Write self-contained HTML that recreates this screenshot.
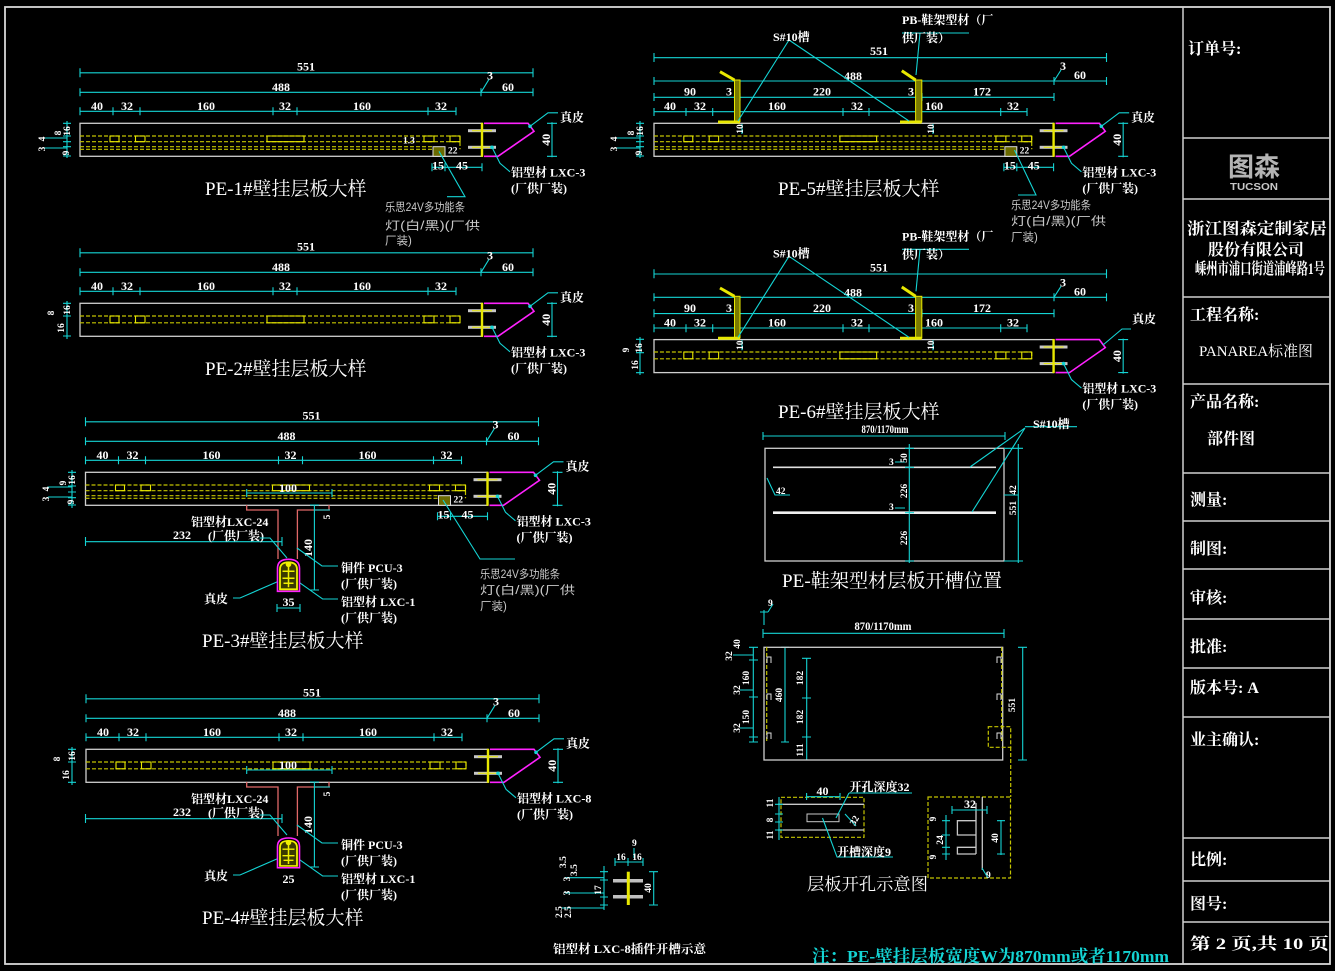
<!DOCTYPE html>
<html><head><meta charset="utf-8"><style>
html,body{margin:0;padding:0;background:#000;}
svg{display:block}
.c{stroke:#14d4d4;fill:none;stroke-width:1.1}
.w{stroke:#cfcfcf;fill:none;stroke-width:1.3}
.y{stroke:#e8e800;fill:none;stroke-width:1.1}
.yd{stroke:#c4c400;fill:none;stroke-dasharray:4 2;stroke-width:1.2}
.m{stroke:#ff22ff;fill:none;stroke-width:1.6}
.r{stroke:#e06868;fill:none;stroke-width:1.3}
.t{fill:#fff;font-family:"Liberation Serif","Noto Serif CJK SC",serif;font-weight:bold;font-size:12px}
.s{fill:#fff;font-family:"Liberation Serif","Noto Serif CJK SC",serif;font-weight:bold;font-size:9.5px}
.l{fill:#fff;font-family:"Liberation Serif","Noto Serif CJK SC",serif;font-weight:bold;font-size:12px}
.h{fill:#fff;font-family:"Liberation Serif","Noto Serif CJK SC",serif;font-size:19px}
.g{fill:#c8c8c8;font-family:"Liberation Sans","Noto Sans CJK SC",sans-serif;font-size:11.5px}
.tb{fill:#fff;font-family:"Liberation Serif","Noto Serif CJK SC",serif;font-weight:bold;font-size:16px}
</style></head><body>
<svg width="1335" height="971" viewBox="0 0 1335 971" xmlns="http://www.w3.org/2000/svg">
<rect width="1335" height="971" fill="#000"/>
<defs>
<g id="dimA">
 <path class="c" d="M0 -50.5H453M0 -55V-46M453 -55V-46M0 -31H453M0 -35V-27M401 -35V-27M453 -35V-27M401 -31L409 -44M0 -12H376M0 -16V-8M33 -16V-8M60 -16V-8M193 -16V-8M217 -16V-8M348 -16V-8M376 -16V-8"/>
 <text class="t" x="226" y="-53" text-anchor="middle">551</text>
 <text class="t" x="201" y="-32.5" text-anchor="middle">488</text>
 <text class="t" x="407" y="-44">3</text>
 <text class="t" x="428" y="-32.5" text-anchor="middle">60</text>
 <text class="t" x="17" y="-13.5" text-anchor="middle">40</text>
 <text class="t" x="47" y="-13.5" text-anchor="middle">32</text>
 <text class="t" x="126" y="-13.5" text-anchor="middle">160</text>
 <text class="t" x="205" y="-13.5" text-anchor="middle">32</text>
 <text class="t" x="282" y="-13.5" text-anchor="middle">160</text>
 <text class="t" x="361" y="-13.5" text-anchor="middle">32</text>
</g>
<g id="body">
 <rect class="w" x="0" y="0" width="402" height="33"/>
 <rect x="388" y="5.9" width="28" height="3" fill="#c8c8c8"/>
 <rect x="388" y="22.5" width="28" height="3" fill="#c8c8c8"/>
 <path d="M392 7.4H412M392 24H412" stroke="#e8e800" stroke-width="1"/>
 <path d="M402 -0.5V33.5" stroke="#e8e800" stroke-width="2.4"/>
 <path class="m" d="M404 0H448L454 8L418 33H404"/>
 <path class="c" d="M472 -1V34M467 0H477M467 33H477"/>
 <text class="t" transform="translate(470,16.5) rotate(-90)" text-anchor="middle">40</text>
 <path class="c" d="M412 24L420 40L430 48.5"/>
 <circle cx="412" cy="24" r="1.8" fill="#14d4d4"/>
 <text class="l" x="431" y="69">(厂供厂装)</text>
</g>
<g id="lx3"><text class="l" x="431" y="53">铝型材 LXC-3</text></g>
<g id="zp">
 <path class="c" d="M450 3L468 -10.5H478"/>
 <circle cx="450" cy="3" r="1.8" fill="#14d4d4"/>
 <text class="l" x="480" y="-2" font-size="13">真皮</text>
</g>
<g id="dash4">
 <path class="yd" d="M0 12.7H380M0 18.4H380M0 23.4H352M0 26H352M380 12.7V26"/>
 <path class="y" d="M30 12.7h9v5.7h-9zM55.5 12.7h9.5v5.7h-9.5zM187 12.7h37v5.7h-37zM344 12.7h10v5.7h-10zM370 12.7h10v5.7h-10z"/>
</g>
<g id="dash2">
 <path class="yd" d="M0 12.7H380M0 19.5H380M380 12.7V19.5"/>
 <path class="y" d="M30 12.7h9v6.8h-9zM55.5 12.7h9.5v6.8h-9.5zM187 12.7h37v6.8h-37zM344 12.7h10v6.8h-10zM370 12.7h10v6.8h-10z"/>
</g>
<g id="led">
 <rect x="353" y="23.4" width="12" height="9.6" fill="#6a6a00" stroke="#ddd"/>
 <path class="c" d="M352 44H402M352 40V48M365 40V48M402 40V48"/>
 <text class="t" x="358" y="46" text-anchor="middle">15</text>
 <text class="t" x="382" y="46" text-anchor="middle">45</text>
 <text class="s" x="368" y="30">22</text>
</g>
<g id="handle">
 <path class="m" d="M-11 32V9Q-11 0 0 0Q11 0 11 9V32Z"/>
 <path d="M-8.5 30V10Q-8.5 3 0 3Q8.5 3 8.5 10V30Z" fill="#3a3a00" stroke="#f0f000" stroke-width="1.8"/>
 <path d="M-6 12H6M-6 19H6M0 7V28M-5 24H5" stroke="#f0f000" stroke-width="1.5"/>
 <circle cx="0" cy="5" r="2.8" fill="#f0f000"/>
</g>
<g id="tee">
 <path class="c" d="M246.7 493H332M246.7 489V497M332 489V497"/>
 <text class="t" x="288" y="492" text-anchor="middle">100</text>
 <path class="r" d="M246.7 505V510H278V559M297.4 559V510H329V505"/>
 <path class="c" d="M314.4 505V590M310 505H319M310 590H319M314 510H330"/>
 <text class="t" transform="translate(312,548) rotate(-90)" text-anchor="middle">140</text>
 <text class="s" transform="translate(330,517) rotate(-90)" text-anchor="middle">5</text>
 <path class="c" d="M85.5 541.7H282M85.5 537V546M282 537V546"/>
 <text class="t" x="182" y="539" text-anchor="middle">232</text>
 <text class="l" x="191" y="526">铝型材LXC-24</text>
 <text class="l" x="208" y="540">(厂供厂装)</text>
 <path class="c" d="M259.6 538H270L287 558"/>
 <text class="l" x="341" y="572">铜件 PCU-3</text>
 <text class="l" x="341" y="588">(厂供厂装)</text>
 <path class="c" d="M297 548L322 566H338"/>
 <text class="l" x="341" y="606">铝型材 LXC-1</text>
 <text class="l" x="341" y="622">(厂供厂装)</text>
 <path class="c" d="M299.6 582.7L322.6 599H338"/>
 <text class="l" x="204" y="603">真皮</text>
 <path class="c" d="M233 598H240L277.4 581.7"/>
 <path class="c" d="M277 608H300M277 604V612M300 604V612"/>
</g>
<g id="pe56">
 <use href="#body" transform="translate(654,123.3) scale(0.994,1)"/>
 <use href="#lx3" transform="translate(654,123.3) scale(0.994,1)"/>
 <path class="c" d="M654 57.7H1106.5M654 53V62M1106.5 53V62M654 81H1106.5M654 77V85M1054 77V85M1106.5 77V85M1054 81L1061 70M654 97.3H1054M654 93V101M734.5 93V101M740 93V101M916 93V101M922 93V101M1054 93V101M654 111.7H1027M654 108V116M686 108V116M712.7 108V116M843 108V116M869 108V116M1000.7 108V116M1027 108V116"/>
 <text class="t" x="879" y="55" text-anchor="middle">551</text>
 <text class="t" x="853" y="80" text-anchor="middle">488</text>
 <text class="t" x="1060" y="70">3</text>
 <text class="t" x="1080" y="79" text-anchor="middle">60</text>
 <text class="t" x="690" y="95.5" text-anchor="middle">90</text>
 <text class="t" x="729" y="95.5" text-anchor="middle">3</text>
 <text class="t" x="822" y="95.5" text-anchor="middle">220</text>
 <text class="t" x="911" y="95.5" text-anchor="middle">3</text>
 <text class="t" x="982" y="95.5" text-anchor="middle">172</text>
 <text class="t" x="670" y="110" text-anchor="middle">40</text>
 <text class="t" x="700" y="110" text-anchor="middle">32</text>
 <text class="t" x="777" y="110" text-anchor="middle">160</text>
 <text class="t" x="857" y="110" text-anchor="middle">32</text>
 <text class="t" x="934" y="110" text-anchor="middle">160</text>
 <text class="t" x="1013" y="110" text-anchor="middle">32</text>
 <path d="M720 71.7L734.5 80M901.8 70.7L915.6 80" stroke="#e8e800" stroke-width="3"/>
 <rect x="734.5" y="80" width="5.5" height="41.7" fill="#7a7a00" stroke="#e8e800"/>
 <rect x="915.6" y="80" width="6.2" height="41.7" fill="#7a7a00" stroke="#e8e800"/>
 <path d="M718 122H740M900 122H921.8" stroke="#e8e800" stroke-width="3"/>
 <path class="c" d="M789 40L738 121M789 40L909 121M902 33H969M920 33L916 75M742 124V134M933 124V134"/>
 <text class="l" x="773" y="41">S#10槽</text>
 <text class="l" x="902" y="24">PB-鞋架型材（厂</text>
 <text class="l" x="902" y="42">供厂装）</text>
 <text class="s" transform="translate(743,129) rotate(-90)" text-anchor="middle">10</text>
 <text class="s" transform="translate(934,129) rotate(-90)" text-anchor="middle">10</text>
</g>
</defs>

<!-- frame -->
<rect x="5" y="7" width="1325" height="957" fill="none" stroke="#d8d8d8" stroke-width="1.8"/>
<path d="M1183 7V964M1183 138H1330M1183 199H1330M1183 297H1330M1183 384H1330M1183 473H1330M1183 521H1330M1183 569H1330M1183 619H1330M1183 668H1330M1183 717H1330M1183 838H1330M1183 881H1330M1183 922H1330" stroke="#d0d0d0" stroke-width="1.5" fill="none"/>
<text class="tb" x="1188" y="54">订单号:</text>
<text x="1254" y="176" text-anchor="middle" fill="#b4b4b4" font-family="'Liberation Sans','Noto Sans CJK SC',sans-serif" font-weight="bold" font-size="26">图森</text>
<text x="1254" y="190" text-anchor="middle" fill="#c8c8c8" font-family="'Liberation Sans',sans-serif" font-weight="bold" font-size="10.5" textLength="48" lengthAdjust="spacingAndGlyphs">TUCSON</text>
<text class="tb" x="1257" y="234" text-anchor="middle" font-size="17" textLength="140" lengthAdjust="spacingAndGlyphs">浙江图森定制家居</text>
<text class="tb" x="1256" y="255" text-anchor="middle" font-size="17">股份有限公司</text>
<text class="tb" x="1260" y="274" text-anchor="middle" font-size="10.5" textLength="130" lengthAdjust="spacingAndGlyphs">嵊州市浦口街道浦峰路1号</text>
<text class="tb" x="1190" y="320">工程名称:</text>
<text x="1199" y="356" fill="#fff" font-family="'Liberation Serif','Noto Serif CJK SC',serif" font-size="15" textLength="114" lengthAdjust="spacingAndGlyphs">PANAREA标准图</text>
<text class="tb" x="1190" y="407">产品名称:</text>
<text class="tb" x="1207" y="444">部件图</text>
<text class="tb" x="1190" y="505">测量:</text>
<text class="tb" x="1190" y="554">制图:</text>
<text class="tb" x="1190" y="603">审核:</text>
<text class="tb" x="1190" y="652">批准:</text>
<text class="tb" x="1190" y="693">版本号:  A</text>
<text class="tb" x="1190" y="745">业主确认:</text>
<text class="tb" x="1190" y="865">比例:</text>
<text class="tb" x="1190" y="909">图号:</text>
<text class="tb" x="1190" y="949" textLength="139" lengthAdjust="spacingAndGlyphs">第 2 页,共 10 页</text>

<!-- PE-1 -->
<g transform="translate(80,123.3)">
 <use href="#dimA"/><use href="#body"/><use href="#lx3"/><use href="#zp"/><use href="#dash4"/><use href="#led"/>
 <path class="c" d="M359 28L385 73.4H367"/>
 <text class="s" x="323" y="20">1.3</text>
 <text class="g" x="305" y="87.5" textLength="80" lengthAdjust="spacingAndGlyphs">乐思24V多功能条</text>
 <text class="g" x="305" y="106" textLength="95" lengthAdjust="spacingAndGlyphs">灯(白/黑)(厂供</text>
 <text class="g" x="305" y="121">厂装)</text>
</g>
<path class="c" d="M67 121V158M63 123.3H71M63 136H71M63 141.7H71M63 146.7H71M63 156H71M44 138H67M44 148H67"/>
<text class="s" transform="translate(70,131) rotate(-90)" text-anchor="middle">16</text>
<text class="s" transform="translate(61,133) rotate(-90)" text-anchor="middle">8</text>
<text class="s" transform="translate(45,139) rotate(-90)" text-anchor="middle">4</text>
<text class="s" transform="translate(45,149) rotate(-90)" text-anchor="middle">3</text>
<text class="s" transform="translate(69,153) rotate(-90)" text-anchor="middle">9</text>
<text class="h" x="205" y="195">PE-1#壁挂层板大样</text>

<!-- PE-2 -->
<g transform="translate(80,303.3)">
 <use href="#dimA"/><use href="#body"/><use href="#lx3"/><use href="#zp"/><use href="#dash2"/>
</g>
<path class="c" d="M67 301V339M63 303.3H71M63 316H71M63 336H71"/>
<text class="s" transform="translate(54,313) rotate(-90)" text-anchor="middle">8</text>
<text class="s" transform="translate(70,310) rotate(-90)" text-anchor="middle">16</text>
<text class="s" transform="translate(64,328) rotate(-90)" text-anchor="middle">16</text>
<text class="h" x="205" y="375">PE-2#壁挂层板大样</text>

<!-- PE-3 -->
<g transform="translate(85.5,472.3)">
 <use href="#dimA"/><use href="#body"/><use href="#lx3"/><use href="#zp"/><use href="#dash4"/><use href="#led"/>
</g>
<use href="#tee"/>
<use href="#handle" transform="translate(288.5,559.3)"/>
<text class="t" x="288.5" y="606" text-anchor="middle">35</text>
<path class="c" d="M443 500L480 559H515"/>
<text class="g" x="480" y="578" textLength="80" lengthAdjust="spacingAndGlyphs">乐思24V多功能条</text>
<text class="g" x="480" y="594" textLength="95" lengthAdjust="spacingAndGlyphs">灯(白/黑)(厂供</text>
<text class="g" x="480" y="610">厂装)</text>
<path class="c" d="M72 470V508M68 472.3H76M68 486H76M68 492H76M68 497.7H76M68 505H76M48 487H72M48 497H72"/>
<text class="s" transform="translate(75,480) rotate(-90)" text-anchor="middle">16</text>
<text class="s" transform="translate(66,483) rotate(-90)" text-anchor="middle">9</text>
<text class="s" transform="translate(49,489) rotate(-90)" text-anchor="middle">4</text>
<text class="s" transform="translate(49,499) rotate(-90)" text-anchor="middle">3</text>
<text class="s" transform="translate(74,502) rotate(-90)" text-anchor="middle">9</text>
<text class="h" x="202" y="647">PE-3#壁挂层板大样</text>

<!-- PE-4 -->
<g transform="translate(86,749.3)">
 <use href="#dimA"/><use href="#body"/><use href="#zp"/><use href="#dash2"/>
 <text class="l" x="431" y="53">铝型材 LXC-8</text>
</g>
<g transform="translate(0,277)"><use href="#tee"/></g>
<rect x="275" y="880" width="27" height="9" fill="#000"/>
<use href="#handle" transform="translate(288.5,838) scale(1,0.93)"/>
<text class="t" x="288.5" y="883" text-anchor="middle">25</text>
<path class="c" d="M72 747V785M68 749.3H76M68 762H76M68 782.3H76"/>
<text class="s" transform="translate(60,759) rotate(-90)" text-anchor="middle">8</text>
<text class="s" transform="translate(75,756) rotate(-90)" text-anchor="middle">16</text>
<text class="s" transform="translate(69,775) rotate(-90)" text-anchor="middle">16</text>
<text class="h" x="202" y="924">PE-4#壁挂层板大样</text>

<!-- PE-5 -->
<use href="#pe56"/>
<g transform="translate(654,123.3) scale(0.994,1)"><use href="#zp"/><use href="#dash4"/><use href="#led"/></g>
<path class="c" d="M1014.5 150L1036 195H1018"/>
<text class="g" x="1011" y="209" textLength="80" lengthAdjust="spacingAndGlyphs">乐思24V多功能条</text>
<text class="g" x="1011" y="225" textLength="95" lengthAdjust="spacingAndGlyphs">灯(白/黑)(厂供</text>
<text class="g" x="1011" y="241">厂装)</text>
<path class="c" d="M640 121V158M636 123.3H644M636 136H644M636 141.7H644M636 146.7H644M636 156H644M616 138H640M616 148H640"/>
<text class="s" transform="translate(643,131) rotate(-90)" text-anchor="middle">16</text>
<text class="s" transform="translate(634,133) rotate(-90)" text-anchor="middle">8</text>
<text class="s" transform="translate(617,139) rotate(-90)" text-anchor="middle">4</text>
<text class="s" transform="translate(617,149) rotate(-90)" text-anchor="middle">3</text>
<text class="s" transform="translate(642,153) rotate(-90)" text-anchor="middle">9</text>
<text class="h" x="778" y="195">PE-5#壁挂层板大样</text>

<!-- PE-6 -->
<g transform="translate(0,216.3)"><use href="#pe56"/></g>
<g transform="translate(654,339.3) scale(0.994,1)"><use href="#dash2"/></g>
<path class="c" d="M1103 345L1122 329H1131"/>
<text class="l" x="1132" y="323" font-size="13">真皮</text>
<path class="c" d="M640 337V375M636 339.3H644M636 352.7H644M636 372.7H644"/>
<text class="s" transform="translate(629,350) rotate(-90)" text-anchor="middle">9</text>
<text class="s" transform="translate(642,348) rotate(-90)" text-anchor="middle">16</text>
<text class="s" transform="translate(638,365) rotate(-90)" text-anchor="middle">16</text>
<text class="h" x="778" y="418">PE-6#壁挂层板大样</text>

<!-- 开槽位置 -->
<path class="c" d="M763 436H1005M763 432V440M1005 432V440"/>
<text class="t" x="885" y="433" text-anchor="middle" font-size="9.5" textLength="47" lengthAdjust="spacingAndGlyphs">870/1170mm</text>
<rect class="w" x="765" y="448.3" width="239" height="112.7"/>
<path d="M773 467.3H996" stroke="#e0e0e0" stroke-width="1.6"/>
<path d="M773 512.7H996" stroke="#f0f0f0" stroke-width="2.6"/>
<path class="c" d="M909.3 444V563M905 448.3H914M905 467.3H914M905 512.7H914M905 561H914M1018.3 444V563M1004 448.3H1023M1004 561H1023M1004 495H1018M767 478L775 495H790M1025 428L970 467M1025 428L972 512M1025 426.7H1077M895 462H905M895 508H905"/>
<text class="s" transform="translate(907,458) rotate(-90)" text-anchor="middle">50</text>
<text class="s" transform="translate(907,491) rotate(-90)" text-anchor="middle">226</text>
<text class="s" transform="translate(907,538) rotate(-90)" text-anchor="middle">226</text>
<text class="s" x="889" y="465">3</text>
<text class="s" x="889" y="510">3</text>
<text class="s" transform="translate(1016,490) rotate(-90)" text-anchor="middle">42</text>
<text class="s" transform="translate(1016,508) rotate(-90)" text-anchor="middle">551</text>
<text class="s" x="776" y="494">42</text>
<text class="l" x="1033" y="428" font-size="11">S#10槽</text>
<text class="h" x="782" y="587" textLength="220" lengthAdjust="spacingAndGlyphs">PE-鞋架型材层板开槽位置</text>

<!-- 开孔 panel -->
<path class="c" d="M764 610V625M760 612H768M768 612L773 604M763 633.3H1004M763 629V638M1004 629V638M753.3 647V742M749 647.3H758M749 660H758M749 697H758M749 737H758M749 742H758M785 647V742M781 647.3H789M781 742H789M806.7 658V760M802 658.3H811M802 698H811M802 737H811M802 760H811M1022.7 647V760M1018 647.3H1027M1018 760H1027M733 655H753M740 690H753M740 728H753"/>
<text class="s" x="768" y="606">9</text>
<text class="t" x="883" y="630" text-anchor="middle" font-size="10.5" textLength="57" lengthAdjust="spacingAndGlyphs">870/1170mm</text>
<rect class="w" x="764" y="647.3" width="238.7" height="112.7"/>
<path class="yd" d="M766.7 647V742M1001.7 647V742M1010.7 747V797"/>
<rect class="yd" x="988.3" y="726.7" width="22.4" height="20.6"/>
<path d="M767 663V657H771V663M767 700V694H771V700M767 739V733H771V739M997 663V657H1001V663M997 700V694H1001V700M997 739V733H1001V739" stroke="#ddd" fill="none"/>
<text class="s" transform="translate(782,695) rotate(-90)" text-anchor="middle">460</text>
<text class="s" transform="translate(803,678) rotate(-90)" text-anchor="middle">182</text>
<text class="s" transform="translate(803,717) rotate(-90)" text-anchor="middle">182</text>
<text class="s" transform="translate(803,750) rotate(-90)" text-anchor="middle">111</text>
<text class="s" transform="translate(1015,705) rotate(-90)" text-anchor="middle">551</text>
<text class="s" transform="translate(740,644) rotate(-90)" text-anchor="middle">40</text>
<text class="s" transform="translate(732,656) rotate(-90)" text-anchor="middle">32</text>
<text class="s" transform="translate(749,678) rotate(-90)" text-anchor="middle">160</text>
<text class="s" transform="translate(740,690) rotate(-90)" text-anchor="middle">32</text>
<text class="s" transform="translate(749,717) rotate(-90)" text-anchor="middle">150</text>
<text class="s" transform="translate(740,728) rotate(-90)" text-anchor="middle">32</text>

<!-- 层板开孔示意 -->
<rect class="yd" x="781" y="797.3" width="83" height="40"/>
<path d="M778 804.3H864M778 830H864" stroke="#c8c8c8" stroke-width="1.3"/>
<rect x="807" y="814" width="32" height="7.7" fill="none" stroke="#c8c8c8"/>
<path class="c" d="M806.6 796.7H840M806.6 793V800M840 793V800M849 793H912M849 793L836 818M822.5 818L837 857H893M779 797V840M775 804.3H783M775 814H783M775 822H783M775 830H783M845 814L856 826"/>
<text class="t" x="822.5" y="795" text-anchor="middle">40</text>
<text class="l" x="849.5" y="791">开孔深度32</text>
<text class="s" transform="translate(857,822) rotate(-60)" text-anchor="middle">32</text>
<text class="l" x="837" y="856">开槽深度9</text>
<text class="s" transform="translate(773,803) rotate(-90)" text-anchor="middle">11</text>
<text class="s" transform="translate(773,820) rotate(-90)" text-anchor="middle">8</text>
<text class="s" transform="translate(773,835) rotate(-90)" text-anchor="middle">11</text>
<rect class="yd" x="928" y="797" width="82.5" height="81"/>
<path d="M982.3 797V870M976 803V854M976 820.7H957.4V835H976M976 847.3H957.4V854H976" stroke="#c8c8c8" fill="none" stroke-width="1.3"/>
<path class="c" d="M952 810H987M952 806V814M987 806V814M1001 820V855M997 820.7H1005M997 854H1005M946 815V860M942 820.7H950M942 835H950M942 847.3H950M942 854H950M982 868L988 878"/>
<text class="t" x="970" y="808" text-anchor="middle">32</text>
<text class="s" transform="translate(998,838) rotate(-90)" text-anchor="middle">40</text>
<text class="s" transform="translate(936,819) rotate(-90)" text-anchor="middle">9</text>
<text class="s" transform="translate(943,840) rotate(-90)" text-anchor="middle">24</text>
<text class="s" transform="translate(936,857) rotate(-90)" text-anchor="middle">9</text>
<text class="s" x="986" y="878">9</text>
<text x="807" y="890" fill="#fff" font-family="'Liberation Serif','Noto Serif CJK SC',serif" font-size="17" textLength="121" lengthAdjust="spacingAndGlyphs">层板开孔示意图</text>

<!-- LXC-8 插件 -->
<rect x="613" y="879" width="30" height="3.5" fill="#c0c0c0"/>
<rect x="613" y="895" width="30" height="3.5" fill="#c0c0c0"/>
<path d="M628.3 871.7V905" stroke="#e8e800" stroke-width="3"/>
<path class="c" d="M653.7 871.7V905M649 871.7H658M649 905H658M615 862H643M615 858V866M628 858V866M643 858V866M634 848V858M604 866V910M600 871.7H608M600 880H608M600 897H608M600 905H608M565 877.7H604M565 893H604M562 908H604"/>
<text class="s" x="621" y="860" text-anchor="middle">16</text>
<text class="s" x="637" y="860" text-anchor="middle">16</text>
<text class="s" x="632" y="846">9</text>
<text class="s" transform="translate(651,888) rotate(-90)" text-anchor="middle">40</text>
<text class="s" transform="translate(601,890) rotate(-90)" text-anchor="middle">17</text>
<text class="s" transform="translate(566,862) rotate(-90)" text-anchor="middle">3.5</text>
<text class="s" transform="translate(577,870) rotate(-90)" text-anchor="middle">3.5</text>
<text class="s" transform="translate(570,879) rotate(-90)" text-anchor="middle">3</text>
<text class="s" transform="translate(570,893) rotate(-90)" text-anchor="middle">3</text>
<text class="s" transform="translate(562,912) rotate(-90)" text-anchor="middle">2.5</text>
<text class="s" transform="translate(571,912) rotate(-90)" text-anchor="middle">2.5</text>
<text class="t" x="553" y="953" font-size="11" textLength="153" lengthAdjust="spacingAndGlyphs">铝型材 LXC-8插件开槽示意</text>

<text x="812" y="962" fill="#14d4d4" font-family="'Liberation Serif','Noto Serif CJK SC',serif" font-weight="bold" font-size="17" textLength="357" lengthAdjust="spacingAndGlyphs">注：PE-壁挂层板宽度W为870mm或者1170mm</text>
</svg>
</body></html>
